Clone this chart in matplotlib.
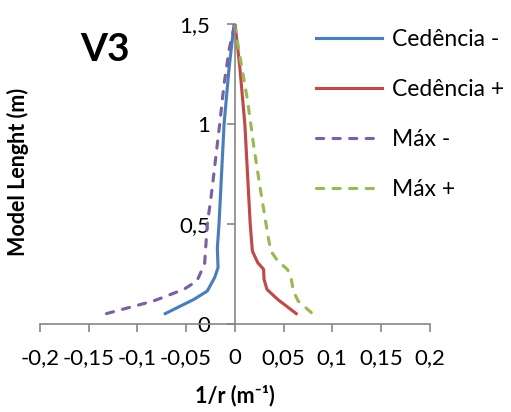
import matplotlib.pyplot as plt
from matplotlib.ticker import FuncFormatter

plt.rcParams['font.family'] = ['Lato', 'DejaVu Sans']

# curvatura (1/r) ao longo do comprimento do modelo
ced_neg_x = [-0.0713, -0.042, -0.0282, -0.0207, -0.0172, -0.0179, -0.0162, -0.011, -0.0059, -0.0007]
ced_neg_y = [0.052, 0.123, 0.165, 0.232, 0.282, 0.38, 0.5, 1.0, 1.28, 1.5]
ced_pos_x = [0.063, 0.044, 0.033, 0.030, 0.0296, 0.0235, 0.018, 0.0158, 0.0103, 0.0052, 0.0003]
ced_pos_y = [0.052, 0.123, 0.173, 0.223, 0.273, 0.307, 0.365, 0.5, 1.0, 1.28, 1.5]
max_neg_x = [-0.1316, -0.0834, -0.0524, -0.0389, -0.031, -0.0282, -0.024, -0.0196, -0.0155, -0.011, -0.0059, -0.0014, 0.0]
max_neg_y = [0.052, 0.115, 0.173, 0.215, 0.30, 0.5, 0.648, 0.83, 1.0, 1.2, 1.37, 1.47, 1.5]
max_pos_x = [0.0785, 0.065, 0.060, 0.058, 0.054, 0.044, 0.037, 0.0344, 0.027, 0.020, 0.013, 0.0059, 0.0]
max_pos_y = [0.057, 0.115, 0.165, 0.223, 0.273, 0.315, 0.365, 0.43, 0.65, 0.87, 1.12, 1.32, 1.49]

fig = plt.figure(figsize=(5.11, 4.12), dpi=100)
ax = fig.add_axes([0.078, 0.2136, 0.763, 0.728])

ax.plot(ced_neg_x, ced_neg_y, color='#4a7ebb', lw=2.25, label='Cedência -')
ax.plot(ced_pos_x, ced_pos_y, color='#be4b48', lw=2.25, label='Cedência +')
ax.plot(max_neg_x, max_neg_y, color='#7d60a0', lw=2.25, dashes=(2.3, 3.0),
        dash_capstyle='round', label='Máx -')
ax.plot(max_pos_x, max_pos_y, color='#98b954', lw=2.25, dashes=(2.3, 3.0),
        dash_capstyle='round', label='Máx +')

ax.set_xlim(-0.2, 0.2)
ax.set_ylim(0, 1.5)
ax.set_xticks([-0.2, -0.15, -0.1, -0.05, 0, 0.05, 0.1, 0.15, 0.2])
ax.set_yticks([0, 0.5, 1, 1.5])
fmt = FuncFormatter(lambda v, p: ('%g' % round(v, 3)).replace('.', ','))
ax.xaxis.set_major_formatter(fmt)
ax.yaxis.set_major_formatter(fmt)

for s in ['top', 'right']:
    ax.spines[s].set_visible(False)
ax.spines['left'].set_position(('data', 0))
ax.spines['bottom'].set_position(('data', 0))
for s in ['left', 'bottom']:
    ax.spines[s].set_color('#868686')
    ax.spines[s].set_linewidth(1.2)
ax.tick_params(axis='both', colors='#868686', labelcolor='black', labelsize=16,
               length=6, width=1.2, direction='out')
ax.tick_params(axis='x', pad=11)
ax.tick_params(axis='y', pad=12)

ax.set_xlabel('1/r (m⁻¹)', fontsize=15.5, fontweight='bold', labelpad=12)
fig.text(0.035, 0.583, 'Model Lenght (m)', rotation=90, fontsize=15.5,
         fontweight='bold', ha='center', va='center')
fig.text(0.205, 0.881, 'V3', fontsize=28, fontweight='bold', ha='center', va='center')

fig.legend(loc='upper left', bbox_to_anchor=(0.618, 0.93), frameon=False,
           fontsize=16.5, handlelength=2.9, labelspacing=1.27, handletextpad=0.42,
           borderpad=0, borderaxespad=0)

fig.savefig('out.png', dpi=100)
